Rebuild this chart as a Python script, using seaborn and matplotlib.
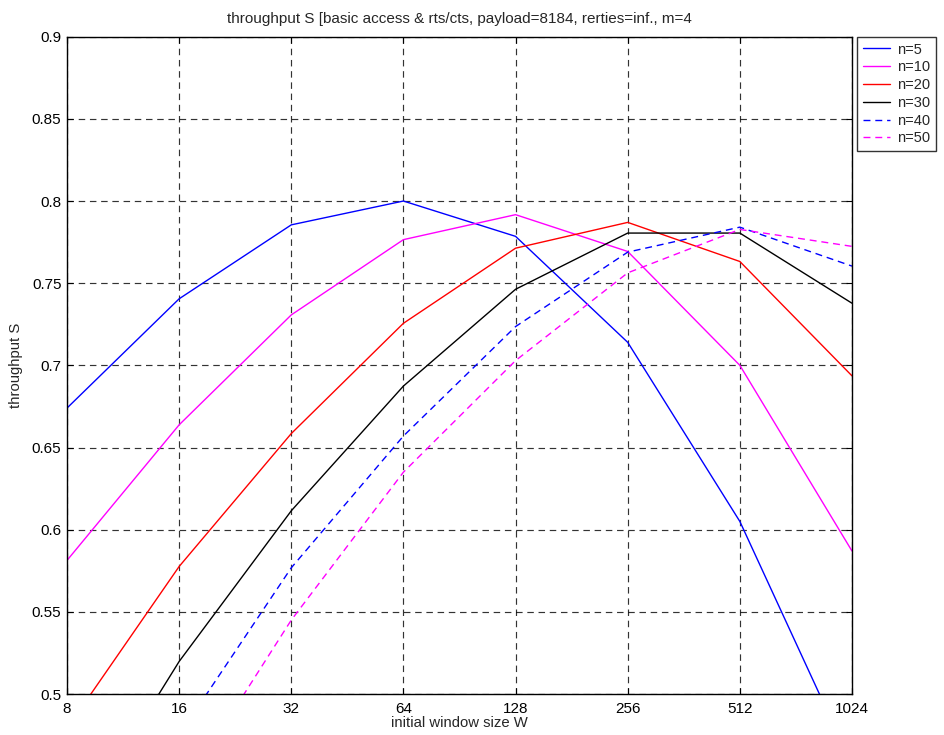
import numpy as np
import pandas as pd
import matplotlib
matplotlib.use("Agg")
import matplotlib.pyplot as plt
import seaborn as sns

# Initial contention window sizes (x axis, log2 scale)
window_sizes = [8, 16, 32, 64, 128, 256, 512, 1024]

# Saturation throughput for each number of stations
s_n5 = [0.674, 0.7405, 0.7855, 0.800, 0.7785, 0.714, 0.605, 0.457]
s_n10 = [0.5813, 0.6638, 0.7307, 0.7765, 0.7917, 0.7693, 0.700, 0.587]
s_n20 = [0.479, 0.5776, 0.6585, 0.7256, 0.7713, 0.787, 0.7632, 0.6936]
s_n30 = [0.410, 0.5198, 0.6115, 0.6874, 0.7463, 0.7805, 0.7805, 0.7378]
s_n40 = [0.360, 0.475, 0.5768, 0.657, 0.7236, 0.7689, 0.7841, 0.7604]
s_n50 = [0.325, 0.438, 0.545, 0.635, 0.7029, 0.7563, 0.7827, 0.7724]

series_labels = ["n=5", "n=10", "n=20", "n=30", "n=40", "n=50"]
series_values = [s_n5, s_n10, s_n20, s_n30, s_n40, s_n50]

x_tick_labels = ["8", "16", "32", "64", "128", "256", "512", "1024"]
y_ticks = [0.5, 0.55, 0.6, 0.65, 0.7, 0.75, 0.8, 0.85, 0.9]
y_tick_labels = ["0.5", "0.55", "0.6", "0.65", "0.7", "0.75", "0.8", "0.85", "0.9"]

frames = []
for label, vals in zip(series_labels, series_values):
    frames.append(pd.DataFrame({"W": window_sizes, "S": vals, "n": label}))
df = pd.concat(frames, ignore_index=True)

sns.set_theme(style="white")
plt.rcParams["font.family"] = ["Liberation Sans", "DejaVu Sans"]

palette = {"n=5": "#0000FF", "n=10": "#FF00FF", "n=20": "#FF0000",
           "n=30": "#000000", "n=40": "#0000FF", "n=50": "#FF00FF"}
dashes = {"n=5": "", "n=10": "", "n=20": "", "n=30": "",
          "n=40": (5, 3.5), "n=50": (5, 3.5)}

fig = plt.figure(figsize=(9.45, 7.35), dpi=100, facecolor="white")
ax = fig.add_axes([67 / 945, 1 - 694 / 735, (852 - 67) / 945, (694 - 36.7) / 735])

sns.lineplot(data=df, x="W", y="S", hue="n", style="n",
             palette=palette, dashes=dashes, hue_order=series_labels,
             style_order=series_labels, linewidth=1.0, ax=ax, legend=True)

ax.set_xscale("log", base=2)
ax.set_xlim(8, 1024)
ax.set_ylim(0.5, 0.9)
ax.set_xticks(window_sizes)
ax.set_xticklabels(x_tick_labels)
ax.set_yticks(y_ticks)
ax.set_yticklabels(y_tick_labels)
ax.minorticks_off()

ax.grid(True, color="black", linestyle=(0, (5.5, 4)), linewidth=0.85, alpha=0.8)
for sp in ax.spines.values():
    sp.set_color("black")
    sp.set_linewidth(1.0)
ax.tick_params(direction="in", length=4, width=0.8, colors="black",
               labelsize=11, top=True, right=True, bottom=True, left=True,
               pad=4)
ax.tick_params(axis="x", pad=6)

ax.set_xlabel("initial window size W", fontsize=10.75, labelpad=0)
ax.set_ylabel("throughput S", fontsize=10.75, labelpad=6)
ax.set_title("throughput S [basic access & rts/cts, payload=8184, rerties=inf., m=4",
             fontsize=11, pad=10)

leg = ax.legend(loc="upper left", bbox_to_anchor=(1.007, 1.0), fontsize=10.5,
                frameon=True, fancybox=False, edgecolor="black",
                labelspacing=0.26, handlelength=1.8, handletextpad=0.5,
                borderpad=0.4, borderaxespad=0.0, title=None)
leg.get_frame().set_linewidth(1.0)

fig.savefig("out.png", dpi=100, facecolor="white")
